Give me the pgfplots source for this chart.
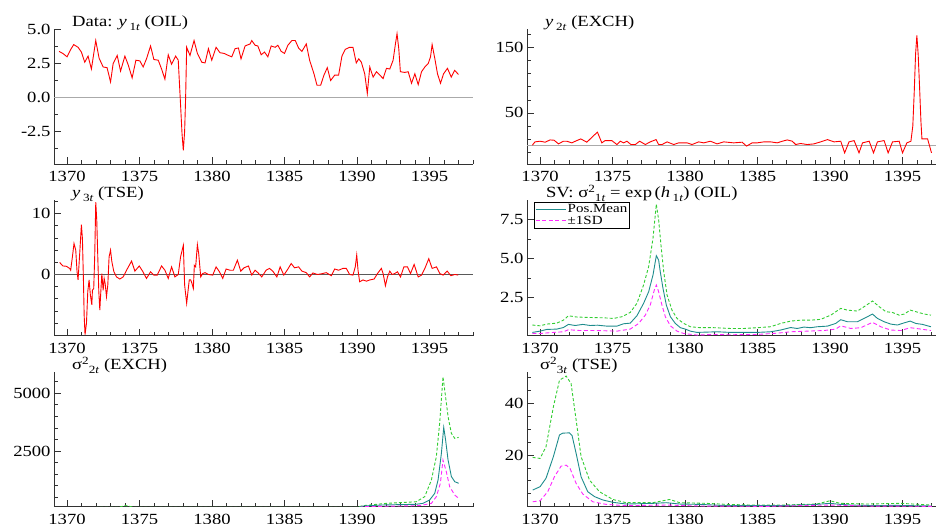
\documentclass[border=0pt]{standalone}
\usepackage{fontspec}
\setmainfont{Liberation Serif}[FakeStretch=1.2]
\usepackage{pgfplots}
\pgfplotsset{compat=1.18}

\definecolor{axcol}{RGB}{50,50,50}
\definecolor{tealc}{RGB}{30,140,140}
\definecolor{grn}{RGB}{50,205,50}
\definecolor{mag}{RGB}{255,40,255}
\definecolor{zl}{RGB}{170,170,170}

\newcommand\tickfont{\fontsize{15.5}{17}\selectfont}
\newcommand\sub[1]{\raisebox{-4pt}{\fontsize{11}{11}\selectfont #1}}
\newcommand\sups[1]{\raisebox{5pt}{\fontsize{11}{11}\selectfont #1}}

\pgfplotsset{panel/.style={
  scale only axis, width=419pt, height=135pt, anchor=south west,
  axis lines=left, axis line style={-, draw=axcol, line width=0.9pt},
  tick style={draw=axcol, line width=0.8pt},
  tick align=inside, major tick length=7pt, minor tick length=3.5pt,
  xmin=1369.1, xmax=1398,
  xtick={1370,1375,1380,1385,1390,1395},
  xticklabels={1370,1375,1380,1385,1390,1395},
  minor xtick={1370,1371,...,1398},
  ticklabel style={font=\tickfont},
  xticklabel style={yshift=-4pt},
  title style={at={(0.043,1)}, anchor=base west, yshift=-3.5pt, font=\tickfont, inner sep=0pt},
  clip mode=individual,
}}

\begin{document}
\begin{tikzpicture}
\useasboundingbox (0,0) rectangle (936pt,524pt);

% ---------- panel 1: y1t (OIL)
\begin{axis}[panel, at={(54pt,360pt)},
  ymin=-4.9, ymax=5.05,
  ytick={-2.5,0,2.5,5}, yticklabels={-2.5,0.0,2.5,5.0},
  minor ytick={-3.75,-1.25,1.25,3.75},
  title={Data: \textit{y}\,\sub{1\textit{t}} (OIL)}]
\addplot[zl, line width=0.8pt] coordinates {(1369.1,0) (1398,0)};
\addplot[red, line width=0.9pt] coordinates {
(1369.45,3.4) (1369.72,3.24) (1370.00,3.0) (1370.23,3.5) (1370.46,3.9) (1370.76,3.7)
(1370.99,3.35) (1371.22,2.6) (1371.45,3.05) (1371.68,2.1) (1371.98,4.2) (1372.21,2.9)
(1372.49,2.25) (1372.76,2.2) (1373.00,1.15) (1373.18,2.5) (1373.46,3.1) (1373.69,1.95)
(1373.99,3.05) (1374.22,2.4) (1374.49,1.45) (1374.75,2.75) (1375.02,2.7) (1375.25,2.25)
(1375.48,2.85) (1375.76,3.8) (1375.99,2.8) (1376.29,2.75) (1376.52,2.1) (1376.75,1.35)
(1376.98,3.15) (1377.21,2.45) (1377.49,3.05) (1377.67,2.75) (1377.83,-0.55) (1377.93,-2.65)
(1378.02,-3.9) (1378.11,-2.5) (1378.18,0.05) (1378.25,3.7) (1378.48,3.1) (1378.76,4.2)
(1378.99,3.25) (1379.29,2.6) (1379.52,2.55) (1379.75,3.6) (1379.98,2.75) (1380.28,3.7)
(1380.55,3.3) (1380.83,3.25) (1381.13,3.1) (1381.36,3.0) (1381.59,3.6) (1381.82,3.65)
(1382.00,2.85) (1382.28,3.8) (1382.63,3.95) (1382.74,4.2) (1382.97,3.85) (1383.16,3.8)
(1383.39,3.15) (1383.62,3.35) (1383.85,3.0) (1384.08,3.8) (1384.35,3.7) (1384.54,3.85)
(1384.77,3.4) (1385.00,3.25) (1385.23,3.85) (1385.51,4.2) (1385.74,4.2) (1385.97,3.65)
(1386.20,3.4) (1386.50,3.95) (1386.73,2.75) (1387.03,1.75) (1387.24,0.9) (1387.49,0.9)
(1387.72,1.65) (1387.95,2.2) (1388.18,1.25) (1388.46,1.65) (1388.73,1.65) (1388.96,3.05)
(1389.19,3.55) (1389.49,3.7) (1389.72,3.7) (1389.95,2.55) (1390.12,2.85) (1390.30,2.6)
(1390.53,1.75) (1390.71,0.3) (1390.88,2.25) (1391.11,1.5) (1391.34,1.9) (1391.57,1.65)
(1391.80,1.4) (1392.03,2.15) (1392.26,2.1) (1392.49,2.75) (1392.65,3.95) (1392.76,4.7)
(1392.88,3.6) (1392.99,1.9) (1393.29,1.85) (1393.53,1.9) (1393.76,1.05) (1393.99,1.75)
(1394.22,0.95) (1394.45,1.9) (1394.68,2.25) (1394.91,2.5) (1395.07,3.0) (1395.18,3.9)
(1395.37,2.85) (1395.55,1.75) (1395.76,1.05) (1395.97,1.75) (1396.24,2.15) (1396.50,1.5)
(1396.73,2.0) (1397.00,1.7)};
\end{axis}

% ---------- panel 2: y2t (EXCH)
\begin{axis}[panel, at={(527pt,360pt)},
  ymin=-28.5, ymax=179,
  ytick={50,150}, yticklabels={50,150},
  minor ytick={-10,10,30,70,90,110,130,170},
  title={\textit{y}\,\sub{2\textit{t}} (EXCH)}]
\addplot[zl, line width=0.8pt] coordinates {(1369.1,0) (1398,0)};
\addplot[red, line width=0.9pt] coordinates {
(1369.47,0.4) (1369.65,5.5) (1370.00,6.5) (1370.35,5) (1370.69,8.5) (1370.97,8)
(1371.27,2.4) (1371.61,6.5) (1371.84,6.5) (1372.19,4) (1372.53,7.5) (1372.81,10)
(1373.23,5) (1373.64,14) (1373.96,20.4) (1374.26,4) (1374.49,7.5) (1374.95,7.5)
(1375.30,1.4) (1375.53,6.5) (1375.76,4) (1375.99,6.5) (1376.27,1.4) (1376.57,1.4)
(1376.87,6.5) (1377.26,1.4) (1377.60,5.5) (1378.00,9) (1378.18,1.4) (1378.41,1.4)
(1378.76,5.5) (1379.22,1.4) (1379.56,4) (1380.14,4) (1380.48,1.4) (1380.94,5.5)
(1381.29,4) (1381.75,6.5) (1382.21,2.4) (1382.67,5.5) (1383.36,4) (1383.94,5)
(1384.24,-1) (1384.63,4) (1384.98,4) (1385.44,5.5) (1385.90,5.5) (1386.36,4)
(1386.71,6.5) (1387.05,8.5) (1387.40,6.5) (1387.63,1.4) (1387.97,3) (1388.43,1.4)
(1388.89,2.4) (1389.35,5.5) (1389.82,9) (1390.28,5.5) (1390.74,6.5) (1391.01,-11.4)
(1391.31,5.5) (1391.66,7.5) (1392.00,-11.4) (1392.24,4) (1392.70,6.5) (1393.00,-11.4)
(1393.27,5.5) (1393.73,7.5) (1394.01,-11.4) (1394.31,5.5) (1394.77,6.5) (1395.00,-11.4)
(1395.30,4) (1395.58,6.5) (1395.71,30) (1395.81,83) (1395.90,140) (1395.99,169)
(1396.08,140) (1396.18,88) (1396.27,37) (1396.34,10) (1396.73,10) (1397.00,-11.4)};
\end{axis}

% ---------- panel 3: y3t (TSE)
\begin{axis}[panel, at={(54pt,188.3pt)}, height=136pt,
  ymin=-10.07, ymax=12.3,
  ytick={0,10}, yticklabels={0,10},
  minor ytick={-8,-6,-4,-2,2,4,6,8,12},
  title={\textit{y}\,\sub{3\textit{t}} (TSE)}]
\addplot[black!65, line width=0.8pt] coordinates {(1369.1,0) (1398,0)};
\addplot[red, line width=0.9pt] coordinates {
(1369.49,1.97) (1369.72,1.4) (1369.95,1.35) (1370.18,1.0) (1370.25,0.7) (1370.37,2.9)
(1370.48,5.1) (1370.60,4.0) (1370.69,0.45) (1370.76,-0.9) (1370.88,3.7) (1370.99,8.2)
(1371.06,5.9) (1371.13,-0.9) (1371.18,-6.7) (1371.24,-9.9) (1371.34,-8.0) (1371.43,-2.8)
(1371.52,-0.9) (1371.61,-3.4) (1371.71,-5.0) (1371.75,-2.6) (1371.84,-2.3) (1371.91,3.2)
(1371.98,11.9) (1372.05,8.9) (1372.12,2.9) (1372.19,-2.8) (1372.26,-5.85) (1372.33,-2.8)
(1372.40,0.15) (1372.49,-2.6) (1372.56,-0.65) (1372.63,-1.5) (1372.72,-3.65) (1372.81,-1.75)
(1372.90,2.9) (1373.00,4.0) (1373.09,2.1) (1373.23,0.45) (1373.41,-0.4) (1373.64,-0.75)
(1373.87,-0.4) (1374.15,0.9) (1374.45,2.2) (1374.68,0.55) (1374.98,1.4) (1375.21,0.55)
(1375.48,-0.65) (1375.76,0.45) (1375.99,-0.1) (1376.22,-0.1) (1376.52,1.4) (1376.75,0.7)
(1376.98,-0.65) (1377.21,1.25) (1377.44,-0.4) (1377.67,0) (1377.83,2.9) (1378.02,4.8)
(1378.11,-1.75) (1378.25,-4.75) (1378.34,-2.8) (1378.43,-0.9) (1378.53,-0.9) (1378.62,-1.5)
(1378.71,-2.3) (1378.78,1.5) (1378.87,1.25) (1378.99,4.9) (1379.08,3.45) (1379.22,-0.4)
(1379.35,0.15) (1379.52,0.3) (1379.75,0) (1380.05,-0.1) (1380.28,1.25) (1380.51,0.45)
(1380.74,-0.65) (1380.97,0.9) (1381.24,0.7) (1381.47,0.7) (1381.75,2.35) (1381.98,0.55)
(1382.21,1.1) (1382.51,1.4) (1382.74,-0.1) (1382.97,0.7) (1383.16,0.3) (1383.43,-0.4)
(1383.73,0.7) (1383.96,1.0) (1384.19,0.55) (1384.47,-0.4) (1384.70,1.25) (1384.95,-0.1)
(1385.18,0.7) (1385.46,1.8) (1385.69,1.1) (1385.97,1.25) (1386.20,0.55) (1386.50,0.3)
(1386.73,-0.4) (1386.96,0.25) (1387.26,0) (1387.53,0.1) (1387.88,0.3) (1388.23,-0.2)
(1388.46,0.9) (1388.73,0.7) (1389.03,1.0) (1389.26,1.0) (1389.49,0) (1389.72,-0.1)
(1389.88,1.25) (1389.98,3.2) (1390.07,0.7) (1390.18,-1.2) (1390.41,-0.9) (1390.65,-1.1)
(1390.88,-0.9) (1391.18,-0.75) (1391.41,0.15) (1391.68,1.0) (1391.80,0.15) (1391.96,-1.85)
(1392.10,-0.4) (1392.26,0.55) (1392.42,0) (1392.60,0.15) (1392.79,0.45) (1393.00,-0.4)
(1393.23,1.25) (1393.48,1.25) (1393.69,0.15) (1393.94,1.65) (1394.22,-0.4) (1394.45,-0.1)
(1394.68,1.0) (1394.95,2.6) (1395.18,1.0) (1395.48,1.25) (1395.71,0.15) (1395.94,-0.1)
(1396.22,0.55) (1396.47,-0.2) (1396.75,0) (1396.98,-0.1)};
\end{axis}

% ---------- panel 4: SV sigma^2_1t (OIL)
\begin{axis}[panel, at={(527pt,188.3pt)}, height=135.7pt,
  ymin=0.08, ymax=8.73,
  ytick={2.5,5,7.5}, yticklabels={2.5,5.0,7.5},
  minor ytick={1.25,3.75,6.25},
  title style={at={(0.045,1)}},
  title={SV: σ\sups{2}\sub{1\textit{t}} = exp\,(\textit{h}\,\sub{1\textit{t}}) (OIL)},
  legend style={at={(0.017,0.985)}, anchor=north west, draw=black, line width=0.8pt,
    font=\fontsize{12.5}{12.5}\selectfont, inner sep=1pt, row sep=-1pt,
    nodes={inner sep=1.3pt}},
  legend cell align=left,
  legend image code/.code={\draw[#1, line width=0.9pt] (0pt,0pt) -- (30pt,0pt);}]
\addplot[tealc, line width=0.9pt] coordinates {
(1369.47,0.29) (1370.00,0.37) (1370.46,0.48) (1371.15,0.5) (1371.61,0.6) (1371.96,0.8)
(1372.42,0.73) (1372.95,0.8) (1373.46,0.73) (1373.96,0.75) (1374.61,0.69) (1375.30,0.69)
(1375.76,0.84) (1376.22,0.88) (1376.68,1.35) (1377.14,2.14) (1377.49,2.88) (1377.79,3.95)
(1378.02,5.18) (1378.18,4.9) (1378.29,4.16) (1378.48,3.1) (1378.71,2.03) (1378.99,1.29)
(1379.33,0.86) (1379.68,0.59) (1380.02,0.5) (1380.37,0.37) (1380.83,0.29) (1381.52,0.31)
(1382.21,0.33) (1383.13,0.29) (1384.06,0.29) (1384.98,0.29) (1385.90,0.33) (1386.59,0.44)
(1387.28,0.6) (1387.74,0.54) (1388.20,0.63) (1388.66,0.59) (1389.12,0.65) (1389.82,0.69)
(1390.39,0.86) (1390.74,1.1) (1391.20,0.97) (1391.89,0.97) (1392.35,1.18) (1392.93,1.46)
(1393.27,1.18) (1393.73,0.97) (1394.19,0.82) (1394.65,0.76) (1395.12,0.9) (1395.53,1.01)
(1395.92,0.86) (1396.38,0.8) (1396.96,0.65)};
\addlegendentry{Pos.Mean}
\addplot[mag, line width=0.9pt, dash pattern=on 4pt off 2.5pt] coordinates {
(1369.47,0.22) (1370.00,0.22) (1370.92,0.29) (1371.61,0.33) (1371.96,0.46) (1372.76,0.41)
(1373.92,0.41) (1375.30,0.37) (1376.22,0.5) (1376.80,0.86) (1377.26,1.39) (1377.60,2.03)
(1377.88,2.99) (1378.02,3.31) (1378.18,2.88) (1378.41,2.03) (1378.64,1.29) (1378.99,0.71)
(1379.45,0.37) (1379.91,0.22) (1380.83,0.12) (1381.98,0.16) (1383.13,0.14) (1384.98,0.16)
(1386.36,0.24) (1387.28,0.33) (1388.43,0.37) (1389.59,0.41) (1390.39,0.5) (1390.74,0.71)
(1391.43,0.54) (1392.12,0.59) (1392.93,0.93) (1393.50,0.65) (1394.19,0.44) (1394.88,0.41)
(1395.53,0.59) (1396.27,0.5) (1396.96,0.41)};
\addlegendentry{±1SD}
\addplot[grn, line width=0.9pt, dash pattern=on 3pt off 2pt, forget plot] coordinates {
(1369.47,0.76) (1370.00,0.71) (1370.46,0.82) (1371.15,0.88) (1371.61,1.07) (1371.96,1.35)
(1372.53,1.27) (1373.46,1.24) (1374.38,1.22) (1375.07,1.18) (1375.65,1.29) (1376.22,1.56)
(1376.68,2.14) (1377.14,3.31) (1377.49,4.48) (1377.79,6.29) (1378.02,8.46) (1378.18,7.46)
(1378.34,5.86) (1378.53,4.16) (1378.76,2.67) (1379.10,1.71) (1379.45,1.18) (1379.91,0.86)
(1380.37,0.65) (1381.06,0.59) (1381.98,0.59) (1383.13,0.54) (1384.06,0.54) (1384.98,0.59)
(1385.90,0.65) (1386.59,0.86) (1387.28,1.01) (1387.97,1.07) (1388.66,1.07) (1389.35,1.12)
(1390.05,1.39) (1390.74,1.82) (1391.20,1.71) (1391.89,1.65) (1392.35,1.93) (1392.93,2.29)
(1393.39,1.93) (1393.85,1.61) (1394.31,1.56) (1394.77,1.39) (1395.12,1.46) (1395.53,1.71)
(1395.92,1.61) (1396.50,1.46) (1396.96,1.39)};
\end{axis}

% ---------- panel 5: sigma^2_2t (EXCH)
\begin{axis}[panel, at={(54pt,17.3pt)},
  ymin=85, ymax=5940,
  ytick={2500,5000}, yticklabels={2500,5000},
  minor ytick={500,1000,1500,2000,3000,3500,4000,4500,5500},
  title={σ\sups{2}\sub{2\textit{t}} (EXCH)}]
\addplot[grn, line width=0.9pt, dash pattern=on 3pt off 2pt] coordinates {
(1369.5,40) (1373.6,60) (1374.0,140) (1374.6,60) (1390.0,60) (1390.41,130) (1392.02,230)
(1392.94,260) (1394.09,300) (1394.67,520) (1395.13,1240) (1395.47,2250) (1395.70,3700)
(1395.93,5720) (1396.05,5145) (1396.28,3990) (1396.51,3265) (1396.74,3050) (1397.01,3090)};
\addplot[tealc, line width=0.9pt] coordinates {
(1369.5,10) (1373.5,15) (1374.0,60) (1374.5,20) (1380.0,8) (1385.0,8) (1390.0,30)
(1390.41,115) (1391.79,160) (1392.94,175) (1394.09,190) (1394.55,230) (1395.01,375)
(1395.36,665) (1395.59,1240) (1395.82,2400) (1395.98,3525) (1396.11,2980) (1396.28,2110)
(1396.51,1390) (1396.74,1170) (1397.01,1100)};
\addplot[mag, line width=0.9pt, dash pattern=on 4pt off 2.5pt] coordinates {
(1369.5,5) (1390.0,20) (1390.41,87) (1392.94,115) (1394.32,130) (1395.13,230)
(1395.47,520) (1395.75,1100) (1395.93,2110) (1396.16,1600) (1396.39,955) (1396.74,590)
(1397.01,450)};
\end{axis}

% ---------- panel 6: sigma^2_3t (TSE)
\begin{axis}[panel, at={(527pt,17.3pt)},
  ymin=0, ymax=52.3,
  ytick={20,40}, yticklabels={20,40},
  minor ytick={5,10,15,25,30,35,45,50},
  title style={at={(0.031,1)}},
  title={σ\sups{2}\sub{3\textit{t}} (TSE)}]
\addplot[grn, line width=0.9pt, dash pattern=on 3pt off 2pt] coordinates {
(1369.49,19.1) (1370.00,18.7) (1370.41,23.2) (1370.92,38.7) (1371.34,49) (1371.80,50.6)
(1372.14,47.7) (1372.49,33.5) (1372.83,19.4) (1373.41,10.3) (1374.10,5.8) (1375.02,2.8)
(1375.94,1.55) (1377.79,1.55) (1378.48,2.3) (1378.94,2.8) (1379.63,1.55) (1381.47,1.3)
(1382.86,0.9) (1384.47,0.65) (1386.77,0.65) (1389.08,1.03) (1390.00,2.3) (1390.69,1.3)
(1392.53,1.03) (1394.84,1.3) (1397.03,0.65)};
\addplot[tealc, line width=0.9pt] coordinates {
(1369.49,6.45) (1370.00,7.74) (1370.41,11) (1370.92,19.4) (1371.34,27.8) (1371.57,28.5)
(1372.03,28.6) (1372.21,27.5) (1372.49,20.6) (1372.83,11.6) (1373.29,5.8) (1373.76,3.9)
(1374.33,2.6) (1375.02,1.7) (1375.94,1.03) (1376.87,1.16) (1377.79,1.3) (1378.71,1.55)
(1379.63,1.03) (1381.01,0.9) (1382.40,0.52) (1383.78,0.39) (1386.54,0.39) (1387.70,0.65)
(1388.85,0.8) (1390.00,1.3) (1390.69,0.9) (1391.61,0.6) (1393.00,0.45) (1394.61,0.5)
(1396.68,0.3) (1397.03,0.26)};
\addplot[mag, line width=0.9pt, dash pattern=on 4pt off 2.5pt] coordinates {
(1369.49,1.9) (1370.00,2.3) (1370.53,5.8) (1370.99,11.6) (1371.45,15.7) (1371.80,16.1)
(1372.07,14.8) (1372.49,9) (1372.95,4.9) (1373.64,1.9) (1374.56,0.9) (1375.94,0.39)
(1378.71,0.65) (1381.01,0.26) (1385.62,0.13) (1390.00,0.65) (1392.53,0.26) (1397.03,0.13)};
\end{axis}
\end{tikzpicture}
\end{document}
